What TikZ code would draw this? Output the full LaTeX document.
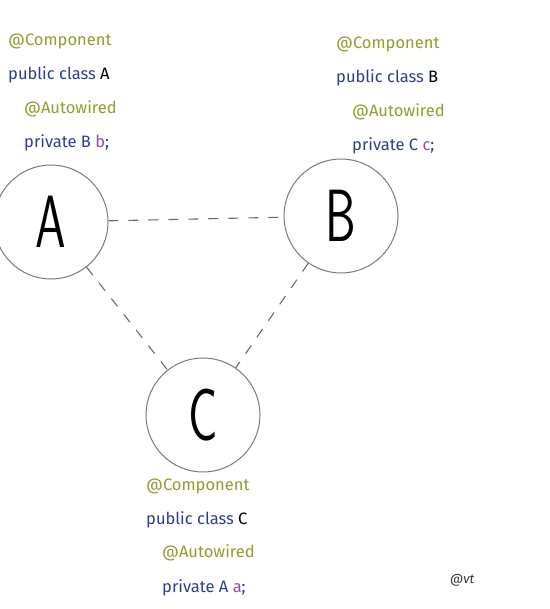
\documentclass[tikz,border=0pt]{standalone}
\usepackage{fontspec}
\usepackage{graphicx}
\setmainfont{Fira Sans}
\usepackage{tikz}
\usetikzlibrary{positioning}
\definecolor{anno}{HTML}{8E9E2C}
\definecolor{kw}{HTML}{2E3C8E}
\definecolor{var}{HTML}{8C4F9E}
\definecolor{ring}{HTML}{7A7A7A}
\definecolor{link}{HTML}{6A6A6A}
\newcommand{\bigletter}[1]{\scalebox{0.66}[1]{\fontsize{74}{74}\selectfont\sffamily\mdseries #1}}

\begin{document}
\begin{tikzpicture}[
      x=1pt, y=-1pt,
      font=\fontsize{16.5}{19}\selectfont,
      bean/.style={circle, draw=ring, line width=1pt, minimum size=114pt, inner sep=0pt},
      code/.style={anchor=west, inner sep=0pt},
      dep/.style={dashed, dash pattern=on 10pt off 10pt, line width=1.1pt, draw=link}
  ]
    \useasboundingbox (0,0) rectangle (549,609);
    % beans
    \node[bean] (a) at (51,222)  {\bigletter{A}};
    \node[bean] (b) at (341,216) {\bigletter{B}};
    \node[bean] (c) at (203,415) {\bigletter{C}};
    % class A
    \node[code, text=anno] (compA) at (8,41)  {@Component};
    \node[code, text=kw]   (clsA)  at (8,75)  {public class \textcolor{black}{A}};
    \node[code, text=anno] (autoA) at (24,109) {@Autowired};
    \node[code, text=kw]   (fldA)  at (24,143) {private B \textcolor{var}{b};};
    % class B
    \node[code, text=anno] (compB) at (336,44)  {@Component};
    \node[code, text=kw]   (clsB)  at (336,78)  {public class \textcolor{black}{B}};
    \node[code, text=anno] (autoB) at (352,112) {@Autowired};
    \node[code, text=kw]   (fldB)  at (352,146) {private C \textcolor{var}{c};};
    % class C
    \node[code, text=anno] (compC) at (146,486) {@Component};
    \node[code, text=kw]   (clsC)  at (146,520) {public class \textcolor{black}{C}};
    \node[code, text=anno] (autoC) at (162,553) {@Autowired};
    \node[code, text=kw]   (fldC)  at (162,588) {private A \textcolor{var}{a};};
    \node[code, font=\fontsize{13}{15}\selectfont\itshape, text=black!80] (mark) at (450,580) {@vt};
    % dependencies
    \draw[dep] (a) -- (b);
    \draw[dep] (a) -- (c);
    \draw[dep] (b) -- (c);
  \end{tikzpicture}
\end{document}
